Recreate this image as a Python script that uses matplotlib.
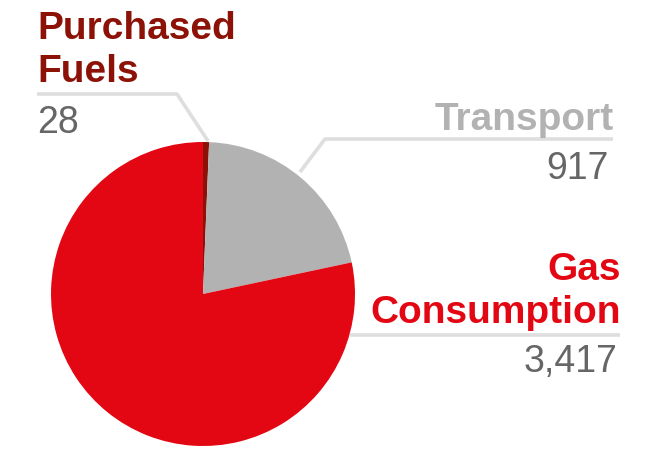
import matplotlib.pyplot as plt

labels = ["Purchased\nFuels", "Transport", "Gas\nConsumption"]
values = [28, 917, 3417]
colors = ["#8C1207", "#B3B2B2", "#E30613"]

plt.rcParams['font.family'] = ['Liberation Sans', 'DejaVu Sans']

W, H = 659, 454
fig = plt.figure(figsize=(W / 100, H / 100), dpi=100)
ax = fig.add_axes([0, 0, 1, 1])

cx, cy, r = 203, H - 294, 152
ax.pie(values, colors=colors, startangle=90, counterclock=False,
       center=(cx, cy), radius=r, frame=True,
       wedgeprops=dict(linewidth=0))
ax.set_xlim(0, W)
ax.set_ylim(0, H)
ax.set_aspect('equal')
ax.axis('off')

line_kw = dict(color="#DEDEDE", lw=2.6, solid_capstyle='butt', zorder=0)
# leader lines (pixel coords, y flipped)
ax.plot([37, 177, 208], [H - 94, H - 94, H - 141], **line_kw)
ax.plot([613, 325, 300], [H - 139, H - 139, H - 172], **line_kw)
ax.plot([350, 620], [H - 335, H - 335], **line_kw)

label_kw = dict(fontsize=28, fontweight='bold', linespacing=1.24)
num_kw = dict(fontsize=27, color="#666666")

# multi-line labels are anchored on the baseline of their last line
ax.text(37, H - 82, labels[0], color=colors[0], ha='left', va='baseline', **label_kw)
ax.text(37, H - 133, f"{values[0]:,}", ha='left', va='baseline', **num_kw)

ax.text(614, H - 130, labels[1], color=colors[1], ha='right', va='baseline', **label_kw)
ax.text(609, H - 179, f"{values[1]:,}", ha='right', va='baseline', **num_kw)

ax.text(621, H - 323, labels[2], color=colors[2], ha='right', va='baseline', **label_kw)
ax.text(617, H - 372, f"{values[2]:,}", ha='right', va='baseline', **num_kw)

fig.savefig("out.png", dpi=100)
